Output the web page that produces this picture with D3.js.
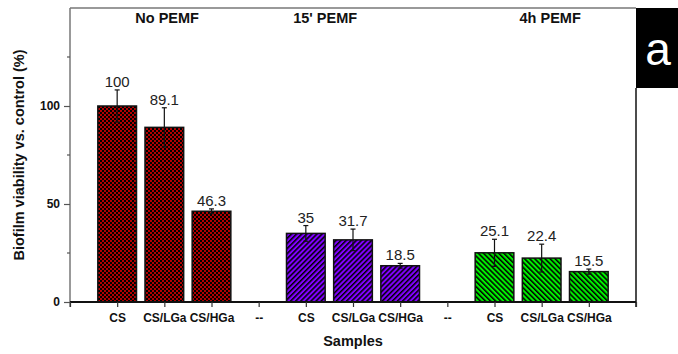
<!DOCTYPE html>
<html>
<head>
<meta charset="utf-8">
<script src="https://cdn.jsdelivr.net/npm/d3@7"></script>
<style>
  html, body { margin: 0; padding: 0; background: #fff; }
  svg { display: block; }
  text { font-family: Arial, "Liberation Sans", sans-serif; }
</style>
</head>
<body>
<svg id="chart" width="678" height="354"></svg>
<script>
// Sample labels along the x axis (one slot per position, "--" are spacers)
const categories = ["CS", "CS/LGa", "CS/HGa", "--", "CS", "CS/LGa", "CS/HGa", "--", "CS", "CS/LGa", "CS/HGa"];

// Biofilm viability (% of control) and standard deviation per treatment group
const noPemfValues = [100, 89.1, 46.3];
const noPemfErrors = [8.2, 10.0, 1.2];
const pemf15Values = [35, 31.7, 18.5];
const pemf15Errors = [4.0, 5.5, 1.2];
const pemf4hValues = [25.1, 22.4, 15.5];
const pemf4hErrors = [6.9, 7.1, 1.3];

// Group headings and their x position (in slot units)
const groupTitles = ["No PEMF", "15' PEMF", "4h PEMF"];
const groupTitleX = [2.06, 5.41, 10.18];

// y axis ticks
const yMajorTicks = [0, 50, 100];
const yMinorTicks = [25, 75, 125];

(function draw() {
  const svg = d3.select("#chart");
  const defs = svg.append("defs");

  // Fill patterns for the three groups
  const checker = defs.append("pattern").attr("id", "pat-red")
    .attr("patternUnits", "userSpaceOnUse").attr("width", 4).attr("height", 4);
  checker.append("rect").attr("width", 4).attr("height", 4).attr("fill", "#b30000");
  checker.append("rect").attr("x", 0).attr("y", 0).attr("width", 2).attr("height", 2).attr("fill", "#000");
  checker.append("rect").attr("x", 2).attr("y", 2).attr("width", 2).attr("height", 2).attr("fill", "#000");

  function stripes(id, color, angle) {
    const p = defs.append("pattern").attr("id", id)
      .attr("patternUnits", "userSpaceOnUse").attr("width", 3.6).attr("height", 3.6)
      .attr("patternTransform", `rotate(${angle})`);
    p.append("rect").attr("width", 3.6).attr("height", 3.6).attr("fill", color);
    p.append("rect").attr("width", 1.5).attr("height", 3.6).attr("fill", "#000");
  }
  stripes("pat-purple", "#8000ff", 45);
  stripes("pat-green", "#00f000", -45);

  const groups = [
    { values: noPemfValues, errors: noPemfErrors, start: 1, fill: "url(#pat-red)" },
    { values: pemf15Values, errors: pemf15Errors, start: 5, fill: "url(#pat-purple)" },
    { values: pemf4hValues, errors: pemf4hErrors, start: 9, fill: "url(#pat-green)" }
  ];

  const bars = [];
  groups.forEach(g => g.values.forEach((v, i) => bars.push({ pos: g.start + i, value: v, err: g.errors[i], fill: g.fill })));

  const mLeft = 70, mRight = 636, mTop = 8, mBottom = 302;
  const x = d3.scaleLinear().domain([0, categories.length + 1]).range([mLeft, mRight]);
  const y = d3.scaleLinear().domain([0, 150]).range([mBottom, mTop]);
  const slot = x(1) - x(0);
  const barW = slot * 0.82;

  // Bars
  svg.append("g").selectAll("rect").data(bars).join("rect")
    .attr("x", d => x(d.pos) - barW / 2)
    .attr("y", d => y(d.value))
    .attr("width", barW)
    .attr("height", d => y(0) - y(d.value))
    .attr("fill", d => d.fill)
    .attr("stroke", "#111")
    .attr("stroke-width", 1.5);

  // Error bars
  const eb = svg.append("g").attr("stroke", "#111").attr("stroke-width", 1.2);
  eb.selectAll("line.v").data(bars).join("line").attr("class", "v")
    .attr("x1", d => x(d.pos)).attr("x2", d => x(d.pos))
    .attr("y1", d => y(d.value - d.err)).attr("y2", d => y(d.value + d.err));
  eb.selectAll("line.cap").data(bars).join("line").attr("class", "cap")
    .attr("x1", d => x(d.pos) - 2.5).attr("x2", d => x(d.pos) + 2.5)
    .attr("y1", d => y(d.value + d.err)).attr("y2", d => y(d.value + d.err));
  eb.selectAll("line.capb").data(bars).join("line").attr("class", "capb")
    .attr("x1", d => x(d.pos) - 2.5).attr("x2", d => x(d.pos) + 2.5)
    .attr("y1", d => y(d.value - d.err)).attr("y2", d => y(d.value - d.err));

  // Value labels
  svg.append("g").selectAll("text").data(bars).join("text")
    .attr("x", d => x(d.pos))
    .attr("y", d => y(d.value + d.err) - 3)
    .attr("text-anchor", "middle")
    .attr("font-size", 15)
    .attr("fill", "#222")
    .text(d => String(d.value));

  // Frame: top in grey, right in black
  svg.append("line").attr("x1", mLeft).attr("x2", mRight).attr("y1", mTop).attr("y2", mTop)
    .attr("stroke", "#777").attr("stroke-width", 1.5);
  svg.append("line").attr("x1", mRight).attr("x2", mRight).attr("y1", 88).attr("y2", mBottom + 5)
    .attr("stroke", "#111").attr("stroke-width", 1.5);

  // y axis
  const yAxis = svg.append("g").attr("transform", `translate(${mLeft},0)`)
    .call(d3.axisLeft(y).tickValues(yMajorTicks).tickSize(6).tickPadding(4).tickFormat(d3.format("d")));
  yAxis.select(".domain").attr("stroke", "#777").attr("stroke-width", 1.5).attr("d", `M0,${mTop}V${mBottom + 5}`);
  yAxis.selectAll(".tick line").attr("stroke", "#555").attr("stroke-width", 1.2);
  yAxis.selectAll(".tick text").attr("font-size", 12).attr("font-weight", "bold")
    .attr("font-family", "Arial, 'Liberation Sans', sans-serif").attr("fill", "#111");
  svg.append("g").attr("transform", `translate(${mLeft},0)`)
    .selectAll("line").data(yMinorTicks).join("line")
    .attr("x1", -3).attr("x2", 0).attr("y1", d => y(d)).attr("y2", d => y(d))
    .attr("stroke", "#555").attr("stroke-width", 1.2);

  // x axis
  const xAxis = svg.append("g").attr("transform", `translate(0,${mBottom})`)
    .call(d3.axisBottom(x).tickValues(d3.range(0, categories.length + 2)).tickSize(5).tickPadding(6)
      .tickFormat(i => (i >= 1 && i <= categories.length) ? categories[i - 1] : ""));
  xAxis.select(".domain").attr("stroke", "#111").attr("stroke-width", 2).attr("d", `M${mLeft},0H${mRight}`);
  xAxis.selectAll(".tick line").attr("stroke", "#333").attr("stroke-width", 1.2);
  xAxis.selectAll(".tick text").attr("font-size", 12).attr("font-weight", "bold")
    .attr("font-family", "Arial, 'Liberation Sans', sans-serif").attr("fill", "#111");

  // Group headings
  svg.append("g").selectAll("text").data(groupTitles).join("text")
    .attr("x", (d, i) => x(groupTitleX[i]))
    .attr("y", 23)
    .attr("text-anchor", "middle")
    .attr("font-size", 14.5)
    .attr("font-weight", "bold")
    .attr("fill", "#111")
    .text(d => d);

  // Axis titles
  svg.append("text")
    .attr("x", x(6.0)).attr("y", 346)
    .attr("text-anchor", "middle").attr("font-size", 14.5).attr("font-weight", "bold").attr("fill", "#111")
    .text("Samples");
  svg.append("text")
    .attr("transform", `translate(24,${(mTop + mBottom) / 2}) rotate(-90)`)
    .attr("text-anchor", "middle").attr("font-size", 14.5).attr("font-weight", "bold").attr("fill", "#111")
    .text("Biofilm viability vs. control (%)");

  // Panel letter
  svg.append("rect").attr("x", mRight).attr("y", mTop).attr("width", 678 - mRight).attr("height", 80).attr("fill", "#000");
  svg.append("text")
    .attr("x", (mRight + 678) / 2 + 1).attr("y", 65)
    .attr("text-anchor", "middle")
    .attr("font-family", "'Open Sans', 'Noto Sans', sans-serif")
    .attr("font-size", 46)
    .attr("fill", "#fff")
    .text("a");
})();
</script>
</body>
</html>
